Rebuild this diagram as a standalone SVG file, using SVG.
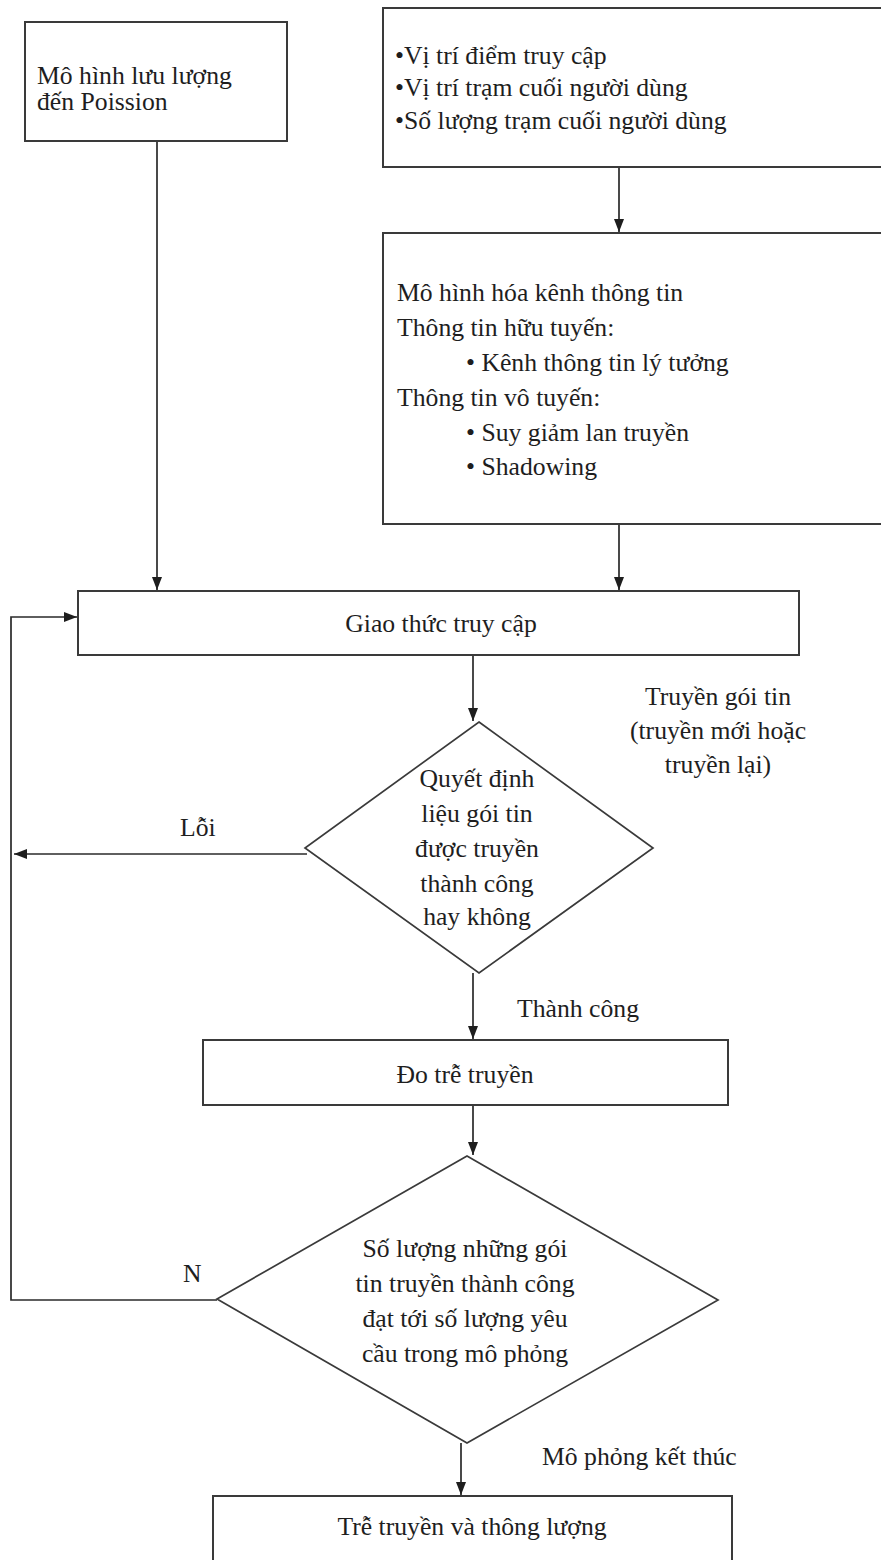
<svg xmlns="http://www.w3.org/2000/svg" width="881" height="1560" viewBox="0 0 881 1560">
  <style>
    .box { fill: #ffffff; stroke: #3a3a3a; stroke-width: 2; }
    .dia { fill: #ffffff; stroke: #3a3a3a; stroke-width: 1.7; }
    .edge { fill: none; stroke: #2a2a2a; stroke-width: 1.7; }
    text { font-family: "Liberation Serif", "Times New Roman", serif; font-size: 25.7px; fill: #1e1e1e; }
    .c { text-anchor: middle; }
  </style>
  <defs>
    <!-- filled triangular arrowhead, tip at the line end -->
    <marker id="arrow" markerWidth="13" markerHeight="10" refX="13" refY="5" viewBox="0 0 13 10" orient="auto" markerUnits="userSpaceOnUse">
      <path d="M0,0 L13,5 L0,10 Z" fill="#1e1e1e"/>
    </marker>
  </defs>
  <rect width="881" height="1560" fill="#ffffff"/>

  <!-- connectors -->
  <g id="connectors">
    <line class="edge" x1="157" y1="141" x2="157" y2="590" marker-end="url(#arrow)"/>
    <line class="edge" x1="619" y1="167" x2="619" y2="232" marker-end="url(#arrow)"/>
    <line class="edge" x1="619" y1="524" x2="619" y2="590" marker-end="url(#arrow)"/>
    <line class="edge" x1="473" y1="655" x2="473" y2="721" marker-end="url(#arrow)"/>
    <line class="edge" x1="307" y1="854" x2="14" y2="854" marker-end="url(#arrow)"/>
    <line class="edge" x1="473" y1="973" x2="473" y2="1039" marker-end="url(#arrow)"/>
    <line class="edge" x1="473" y1="1105" x2="473" y2="1155" marker-end="url(#arrow)"/>
    <polyline class="edge" points="217,1300 11,1300 11,617 77,617" marker-end="url(#arrow)"/>
    <line class="edge" x1="461" y1="1443" x2="461" y2="1495" marker-end="url(#arrow)"/>
  </g>

  <!-- edge labels -->
  <g id="labels">
    <text x="718" y="705" class="c">Truyền gói tin</text>
    <text x="718" y="739" class="c">(truyền mới hoặc</text>
    <text x="718" y="773" class="c">truyền lại)</text>
    <text x="180" y="836">Lỗi</text>
    <text x="517" y="1017">Thành công</text>
    <text x="183" y="1282">N</text>
    <text x="542" y="1465">Mô phỏng kết thúc</text>
  </g>

  <g id="traffic-model">
    <rect class="box" x="25" y="22" width="262" height="119"/>
    <text x="37" y="84">Mô hình lưu lượng</text>
    <text x="37" y="110">đến Poission</text>
  </g>

  <g id="topology">
    <rect class="box" x="383" y="8" width="510" height="159"/>
    <text x="395" y="64">•Vị trí điểm truy cập</text>
    <text x="395" y="96">•Vị trí trạm cuối người dùng</text>
    <text x="395" y="129">•Số lượng trạm cuối người dùng</text>
  </g>

  <g id="channel-model">
    <rect class="box" x="383" y="233" width="510" height="291"/>
    <text x="397" y="301">Mô hình hóa kênh thông tin</text>
    <text x="397" y="336">Thông tin hữu tuyến:</text>
    <text x="466" y="371">• Kênh thông tin lý tưởng</text>
    <text x="397" y="406">Thông tin vô tuyến:</text>
    <text x="466" y="441">• Suy giảm lan truyền</text>
    <text x="466" y="475">• Shadowing</text>
  </g>

  <g id="access-protocol">
    <rect class="box" x="78" y="591" width="721" height="64"/>
    <text x="441" y="632" class="c">Giao thức truy cập</text>
  </g>

  <g id="decision-success">
    <polygon class="dia" points="479,722 653,848 479,973 305,848"/>
    <text x="477" y="787" class="c">Quyết định</text>
    <text x="477" y="822" class="c">liệu gói tin</text>
    <text x="477" y="857" class="c">được truyền</text>
    <text x="477" y="892" class="c">thành công</text>
    <text x="477" y="925" class="c">hay không</text>
  </g>

  <g id="measure-delay">
    <rect class="box" x="203" y="1040" width="525" height="65"/>
    <text x="465" y="1083" class="c">Đo trễ truyền</text>
  </g>

  <g id="decision-count">
    <polygon class="dia" points="467,1156 718,1300 467,1443 217,1299"/>
    <text x="465" y="1257" class="c">Số lượng những gói</text>
    <text x="465" y="1292" class="c">tin truyền thành công</text>
    <text x="465" y="1327" class="c">đạt tới số lượng yêu</text>
    <text x="465" y="1362" class="c">cầu trong mô phỏng</text>
  </g>

  <g id="result">
    <rect class="box" x="213" y="1496" width="519" height="80"/>
    <text x="472" y="1535" class="c">Trễ truyền và thông lượng</text>
  </g>
</svg>
